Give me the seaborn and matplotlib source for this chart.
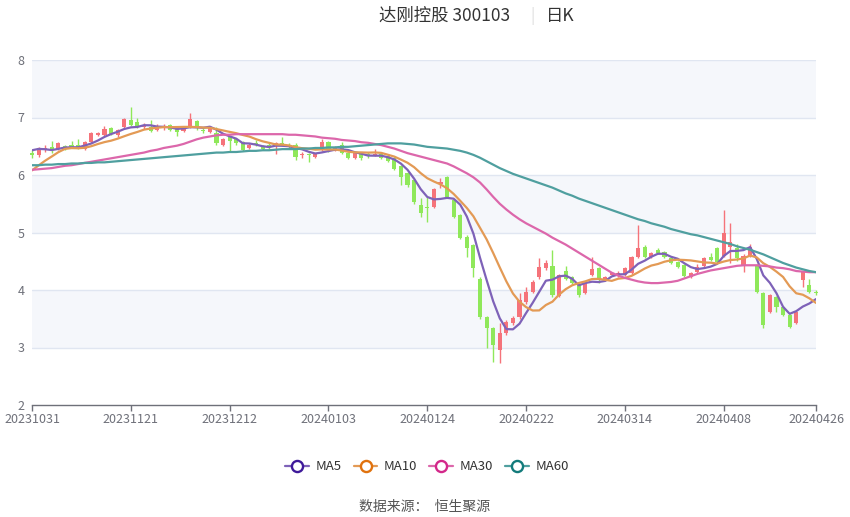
import numpy as np
import pandas as pd
import seaborn as sns
import matplotlib
matplotlib.use("Agg")
from matplotlib import pyplot as plt
from matplotlib.lines import Line2D

tick_pos = [0, 15, 30, 45, 60, 75, 90, 105, 119]
tick_labels = ["20231031", "20231121", "20231212", "20240103", "20240124",
               "20240222", "20240314", "20240408", "20240426"]

opens = [
    6.38, 6.35, 6.44, 6.49, 6.45, 6.50, 6.52, 6.52, 6.46, 6.58,
    6.69, 6.70, 6.82, 6.70, 6.84, 6.95, 6.93, 6.83, 6.83, 6.79,
    6.82, 6.87, 6.82, 6.77, 6.83, 6.94, 6.79, 6.75, 6.73, 6.52,
    6.66, 6.63, 6.57, 6.47, 6.55, 6.50, 6.52, 6.51, 6.56, 6.53,
    6.52, 6.34, 6.37, 6.31, 6.46, 6.57, 6.43, 6.52, 6.38, 6.30,
    6.37, 6.37, 6.35, 6.36, 6.33, 6.29, 6.16, 6.04, 5.91, 5.48,
    5.44, 5.44, 5.84, 5.97, 5.57, 5.30, 4.92, 4.78, 4.20, 3.53,
    3.34, 2.96, 3.25, 3.43, 3.53, 3.79, 3.97, 4.23, 4.38, 4.42,
    3.90, 4.33, 4.22, 4.08, 3.95, 4.26, 4.38, 4.17, 4.26, 4.26,
    4.26, 4.30, 4.57, 4.75, 4.57, 4.70, 4.66, 4.55, 4.49, 4.43,
    4.23, 4.31, 4.42, 4.57, 4.73, 4.60, 4.75, 4.73, 4.43, 4.60,
    4.43, 3.95, 3.62, 3.88, 3.70, 3.57, 3.43, 4.17, 4.09, 3.97,
]
closes = [
    6.35, 6.47, 6.47, 6.43, 6.55, 6.47, 6.49, 6.47, 6.58, 6.73,
    6.73, 6.80, 6.72, 6.78, 6.97, 6.87, 6.84, 6.87, 6.77, 6.86,
    6.85, 6.79, 6.74, 6.81, 6.97, 6.83, 6.76, 6.83, 6.55, 6.62,
    6.60, 6.56, 6.43, 6.53, 6.52, 6.46, 6.49, 6.55, 6.52, 6.48,
    6.31, 6.37, 6.34, 6.37, 6.57, 6.43, 6.49, 6.38, 6.30, 6.38,
    6.30, 6.33, 6.37, 6.30, 6.25, 6.10, 5.97, 5.83, 5.53, 5.34,
    5.42, 5.76, 5.87, 5.62, 5.27, 4.90, 4.73, 4.38, 3.53, 3.34,
    3.04, 3.25, 3.44, 3.51, 3.83, 3.97, 4.14, 4.40, 4.47, 3.92,
    4.26, 4.20, 4.12, 3.91, 4.12, 4.37, 4.17, 4.22, 4.30, 4.30,
    4.38, 4.57, 4.73, 4.57, 4.64, 4.64, 4.57, 4.47, 4.40, 4.25,
    4.30, 4.40, 4.55, 4.53, 4.49, 4.99, 4.83, 4.56, 4.60, 4.75,
    3.97, 3.39, 3.91, 3.70, 3.57, 3.36, 3.62, 4.31, 3.97, 3.95,
]
highs = [
    6.43, 6.49, 6.53, 6.60, 6.57, 6.52, 6.60, 6.63, 6.60, 6.75,
    6.75, 6.85, 6.84, 6.80, 6.99, 7.18, 7.00, 6.91, 6.95, 6.88,
    6.88, 6.89, 6.84, 6.83, 7.08, 6.96, 6.81, 6.86, 6.84, 6.64,
    6.68, 6.65, 6.60, 6.55, 6.61, 6.52, 6.55, 6.57, 6.66, 6.55,
    6.55, 6.40, 6.38, 6.38, 6.62, 6.60, 6.51, 6.58, 6.40, 6.40,
    6.38, 6.40, 6.45, 6.38, 6.35, 6.31, 6.18, 6.05, 5.92, 5.60,
    5.62, 5.78, 5.95, 5.98, 5.58, 5.32, 4.95, 4.80, 4.22, 3.55,
    3.36, 3.43, 3.47, 3.55, 3.95, 4.05, 4.18, 4.56, 4.52, 4.70,
    4.28, 4.42, 4.24, 4.10, 4.14, 4.57, 4.40, 4.24, 4.32, 4.33,
    4.40, 4.59, 5.13, 4.78, 4.66, 4.73, 4.68, 4.57, 4.51, 4.45,
    4.32, 4.45, 4.57, 4.65, 4.75, 5.39, 5.16, 4.80, 4.62, 4.80,
    4.45, 3.97, 3.93, 3.90, 3.72, 3.59, 3.64, 4.33, 4.20, 4.00,
]
lows = [
    6.30, 6.32, 6.40, 6.38, 6.43, 6.44, 6.47, 6.45, 6.44, 6.56,
    6.67, 6.68, 6.70, 6.66, 6.82, 6.85, 6.82, 6.80, 6.75, 6.76,
    6.78, 6.77, 6.67, 6.75, 6.81, 6.78, 6.73, 6.73, 6.53, 6.50,
    6.42, 6.53, 6.41, 6.45, 6.50, 6.44, 6.46, 6.36, 6.50, 6.45,
    6.26, 6.30, 6.22, 6.29, 6.42, 6.40, 6.41, 6.36, 6.28, 6.28,
    6.26, 6.30, 6.33, 6.27, 6.23, 6.08, 5.83, 5.80, 5.50, 5.27,
    5.18, 5.42, 5.78, 5.60, 5.25, 4.88, 4.57, 4.23, 3.50, 3.00,
    2.75, 2.73, 3.22, 3.40, 3.50, 3.76, 3.95, 4.20, 4.35, 3.88,
    3.87, 4.17, 4.10, 3.88, 3.93, 4.24, 4.12, 4.15, 4.24, 4.22,
    4.24, 4.28, 4.55, 4.55, 4.55, 4.62, 4.55, 4.45, 4.38, 4.22,
    4.21, 4.29, 4.40, 4.51, 4.47, 4.58, 4.47, 4.50, 4.31, 4.58,
    3.95, 3.34, 3.60, 3.62, 3.55, 3.34, 3.41, 4.05, 3.95, 3.92,
]
# closes of the nine sessions before the window (needed for MA5 / MA10)
prev_closes = [5.60, 5.65, 5.70, 5.80, 5.90, 6.35, 6.50, 6.50, 6.45]

ma30 = [
    6.09, 6.10, 6.11, 6.12, 6.14, 6.16, 6.17, 6.19, 6.21, 6.23,
    6.25, 6.27, 6.29, 6.31, 6.33, 6.35, 6.37, 6.39, 6.42, 6.44,
    6.47, 6.49, 6.51, 6.54, 6.58, 6.62, 6.65, 6.67, 6.69, 6.70,
    6.70, 6.71, 6.71, 6.71, 6.71, 6.71, 6.71, 6.71, 6.71, 6.70,
    6.70, 6.69, 6.68, 6.67, 6.65, 6.64, 6.63, 6.61, 6.60, 6.59,
    6.57, 6.56, 6.54, 6.52, 6.49, 6.46, 6.42, 6.38, 6.35, 6.32,
    6.29, 6.26, 6.23, 6.20, 6.15, 6.09, 6.03, 5.96, 5.87, 5.75,
    5.62, 5.50, 5.40, 5.31, 5.23, 5.16, 5.10, 5.04, 4.98, 4.91,
    4.85, 4.79, 4.72, 4.65, 4.58, 4.51, 4.44, 4.37, 4.30, 4.25,
    4.21, 4.18, 4.15, 4.13, 4.12, 4.12, 4.13, 4.14, 4.16, 4.20,
    4.24, 4.28, 4.31, 4.34, 4.36, 4.38, 4.40, 4.42, 4.43, 4.43,
    4.43, 4.42, 4.41, 4.39, 4.38, 4.36, 4.33, 4.32, 4.31, 4.31,
]
ma60 = [
    6.17, 6.17, 6.18, 6.18, 6.19, 6.19, 6.20, 6.20, 6.21, 6.21,
    6.22, 6.22, 6.23, 6.24, 6.25, 6.26, 6.27, 6.28, 6.29, 6.30,
    6.31, 6.32, 6.33, 6.34, 6.35, 6.36, 6.37, 6.38, 6.39, 6.39,
    6.40, 6.40, 6.41, 6.42, 6.42, 6.43, 6.43, 6.44, 6.45, 6.45,
    6.45, 6.46, 6.46, 6.47, 6.47, 6.48, 6.48, 6.49, 6.49, 6.50,
    6.51, 6.52, 6.53, 6.54, 6.55, 6.55, 6.55, 6.54, 6.53, 6.51,
    6.49, 6.48, 6.47, 6.46, 6.44, 6.42, 6.39, 6.35, 6.30, 6.24,
    6.18, 6.12, 6.07, 6.02, 5.98, 5.94, 5.90, 5.86, 5.82, 5.78,
    5.73, 5.68, 5.64, 5.59, 5.55, 5.51, 5.47, 5.43, 5.39, 5.35,
    5.31, 5.27, 5.23, 5.20, 5.16, 5.13, 5.10, 5.06, 5.03, 5.00,
    4.97, 4.95, 4.92, 4.89, 4.86, 4.83, 4.80, 4.76, 4.73, 4.70,
    4.66, 4.62, 4.57, 4.52, 4.47, 4.43, 4.39, 4.36, 4.33, 4.31,
]

up_color = "#f5737a"
down_color = "#8fe85a"
ma_names = ["MA5", "MA10", "MA30", "MA60"]
ma_line_colors = ["#7e62b8", "#e39a55", "#dc67ab", "#4f9f9f"]
ma_mark_colors = ["#3f1a9a", "#e0720e", "#d3288a", "#137b7b"]

sns.set_theme(style="white")
plt.rcParams["font.family"] = ["Noto Sans CJK SC", "DejaVu Sans"]

all_c = pd.Series(prev_closes + closes)
ma5 = all_c.rolling(5).mean().iloc[len(prev_closes):].to_numpy()
ma10 = all_c.rolling(10).mean().iloc[len(prev_closes):].to_numpy()

n = len(closes)
idx = np.arange(n)
ma_df = pd.DataFrame({"idx": idx, "MA5": ma5, "MA10": ma10, "MA30": ma30, "MA60": ma60})
ma_long = ma_df.melt(id_vars="idx", var_name="line", value_name="price")

fig = plt.figure(figsize=(8.5, 5.17), dpi=100)
ax = fig.add_axes([32 / 850, 1 - 405 / 517, 784 / 850, 345 / 517])

# background bands and grid
for lo in range(2, 8):
    if lo % 2 == 1:
        ax.axhspan(lo, lo + 1, color="#f5f7fb", zorder=0, lw=0)
for y in range(3, 9):
    ax.axhline(y, color="#e0e6f1", lw=1, zorder=0.5)

o = np.array(opens)
c = np.array(closes)
h = np.array(highs)
l = np.array(lows)
up = c >= o
colors = np.where(up, up_color, down_color)
ax.vlines(idx, l, h, colors=colors, lw=1, zorder=2, clip_on=False)
body_h = np.maximum(np.abs(c - o), 0.012)
ax.bar(idx, body_h, bottom=np.minimum(o, c), width=0.62, color=colors,
       lw=0, zorder=2.5, clip_on=False)

sns.lineplot(data=ma_long, x="idx", y="price", hue="line", hue_order=ma_names,
             palette=ma_line_colors, lw=1.6, legend=False, ax=ax, zorder=3)

ax.set_xlim(0, n - 1)
ax.set_ylim(2, 8)
ax.set_xlabel("")
ax.set_ylabel("")
ax.set_xticks(tick_pos)
ax.set_xticklabels(tick_labels)
ax.set_yticks(range(2, 9))
for s in ["top", "right", "left"]:
    ax.spines[s].set_visible(False)
ax.spines["bottom"].set_color("#6e7079")
ax.spines["bottom"].set_linewidth(1)
ax.tick_params(axis="x", colors="#6e7079", labelsize=9, length=4, width=1,
               direction="out", pad=2, bottom=True)
ax.tick_params(axis="y", colors="#6e7079", labelsize=9, length=0, pad=5.5)

# title
fig.text(445 / 850, 1 - 16 / 517, "达刚控股 300103", ha="center", va="center",
         fontsize=12.5, color="#333333")
fig.text(532 / 850, 1 - 16 / 517, "|", ha="center", va="center",
         fontsize=11, color="#dddddd")
fig.text(560 / 850, 1 - 16 / 517, "日K", ha="center", va="center",
         fontsize=12.5, color="#333333")

handles = [Line2D([0], [0], color=lc, lw=1.6, marker="o", markersize=8,
                  markerfacecolor="white", markeredgecolor=mc, markeredgewidth=1.7)
           for lc, mc in zip(ma_line_colors, ma_mark_colors)]
fig.legend(handles, ma_names, loc="center", bbox_to_anchor=(427 / 850, 1 - 467 / 517),
           ncol=4, frameon=False, fontsize=9.5, handlelength=1.8, handletextpad=0.5,
           columnspacing=0.9, labelcolor="#333333")

fig.text(425 / 850, 1 - 507 / 517, "数据来源：  恒生聚源", ha="center", va="center",
         fontsize=10, color="#555555")

fig.savefig("out.png", dpi=100)
